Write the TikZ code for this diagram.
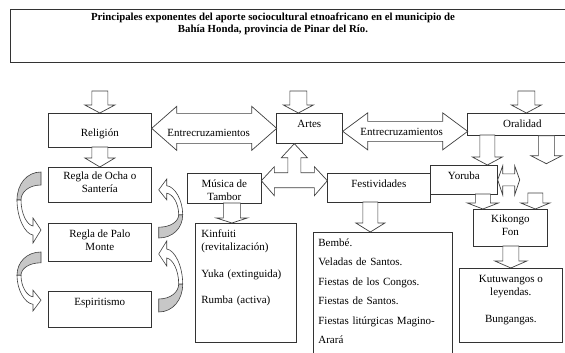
\documentclass[tikz,border=0pt]{standalone}
\usepackage{fontspec}
\setmainfont{Liberation Serif}
\usetikzlibrary{calc}

\tikzset{
  caja/.style={draw=black!80, line width=0.7pt, fill=white, inner sep=0pt, align=center,
    font=\fontsize{11}{13.5}\selectfont},
  lista/.style={caja, align=left, inner xsep=6pt},
  flecha/.style={draw=black!75, line width=0.7pt, fill=white, line join=miter},
  curva/.style={draw=black!75, line width=0.6pt},
  rotulo/.style={inner sep=0pt, font=\fontsize{11}{13.5}\selectfont},
}
% flecha de bloque hacia abajo: punta, largo, medio cuerpo, media cabeza, largo de cabeza
\newcommand{\bajada}[5]{\draw[flecha, shift={#1}] (0,0) -- (-#4,#5) -- (-#3,#5) -- (-#3,#2)
  -- (#3,#2) -- (#3,#5) -- (#4,#5) -- cycle;}
% flecha curva (parte gris detras, parte blanca con la punta)
\newcommand{\curvada}{%
  \draw[curva, fill=black!22] (0,0) .. controls (-14,0) and (-24,-12) .. (-24,-28) -- (-20,-28)
    .. controls (-20,-20) and (-12,-13) .. (0,-13) -- cycle;
  \draw[curva, fill=white] (-24,-28) .. controls (-24,-46) and (-16,-62) .. (-8,-63) -- (-8,-71)
    -- (0,-58) -- (-8,-46) -- (-8,-54) .. controls (-14,-53) and (-20,-42) .. (-20,-28) -- cycle;}

\begin{document}
\begin{tikzpicture}[x=1pt, y=1pt]
\path[use as bounding box, fill=white] (0,0) rectangle (565,-353); % marco de la figura

% titulo
\node[draw=black!80, line width=0.7pt, anchor=north west, minimum width=565, minimum height=53, inner sep=0pt] (marco) at (10,-9) {};
\node[rotulo, align=center, font=\fontsize{10.8}{12}\selectfont\bfseries, anchor=base] (titulo) at (273,-33)
  {Principales exponentes del aporte sociocultural etnoafricano en el municipio de\\
   Bahía Honda, provincia de Pinar del Río.};

% fila superior
\node[caja, anchor=north west, minimum width=103, text height=23, text depth=11] (religion) at (48,-113) {Religión};
\node[caja, anchor=north west, minimum width=66, text height=14, text depth=16] (artes) at (276,-113) {Artes};
\node[caja, anchor=north west, minimum width=110, text height=14, text depth=8] (oralidad) at (467,-113) {Oralidad};

% religion
\node[caja, anchor=north west, minimum width=103, text height=25.5, text depth=9.5] (ocha) at (48,-167) {Regla de Ocha o\\Santería};
\node[caja, anchor=north west, minimum width=103, text height=27.5, text depth=10.5] (palo) at (48,-223) {Regla de Palo\\Monte};
\node[caja, anchor=north west, minimum width=103, text height=14, text depth=22] (espiritismo) at (48,-291) {Espiritismo};

% artes
\node[caja, anchor=north west, minimum width=74, text height=27.5, text depth=2.5] (musica) at (187,-173) {Música de\\Tambor};
\node[caja, anchor=north west, minimum width=103, text height=14, text depth=15] (festividades) at (327,-173) {Festividades};
\node[lista, anchor=north west, text width=89, text height=14, text depth=105] (kinfuiti) at (195,-223)
  {Kinfuiti\\(revitalización)\\[13pt]Yuka (extinguida)\\[13pt]Rumba (activa)};
\node[lista, anchor=north west, inner xsep=5pt, text width=129, text height=14, text depth=114] (fiestas) at (313,-232)
  {Bembé.\\[6pt]Veladas de Santos.\\[6pt]Fiestas de los Congos.\\[6pt]Fiestas de Santos.\\[6pt]Fiestas litúrgicas Magino-\\[6pt]Arará};

% oralidad
\node[caja, anchor=north west, minimum width=67, text height=14, text depth=15] (yoruba) at (430,-165) {Yoruba};
\node[caja, anchor=north west, minimum width=74, text height=26.5, text depth=10.5] (kikongo) at (473,-209) {Kikongo\\Fon};
\node[caja, anchor=north west, minimum width=103, text height=54.5, text depth=19.5] (kutu) at (459,-268)
  {Kutuwangos o\\leyendas.\\[13.5pt]Bungangas.};
\coordinate (libre) at ([xshift=24pt,yshift=-28pt]oralidad.south);

% flechas hacia abajo
\bajada{(religion.north)}{22}{8}{15}{8}
\bajada{([xshift=-11pt]artes.north)}{22}{8.5}{15}{8}
\bajada{([xshift=4pt]oralidad.north)}{22}{8.5}{15}{8}
\bajada{(ocha.north)}{20}{8}{15}{9}
\bajada{([xshift=-14pt]kinfuiti.north)}{20}{8.5}{15.5}{5}
\bajada{([xshift=-12.5pt]fiestas.north)}{30}{7.5}{14.5}{9}
\bajada{([xshift=23.5pt]yoruba.north)}{30}{7.5}{15}{8}
\bajada{(libre)}{28}{8}{15.5}{8}
\bajada{([xshift=-27.5pt]kikongo.north)}{15}{7.5}{15.5}{6}
\bajada{([xshift=25pt]kikongo.north)}{16}{7.5}{14.5}{6}
\bajada{(kutu.north)}{22}{8}{16}{7}

% entrecruzamientos
\draw[flecha, shift={([yshift=2pt]religion.east)}] (0,0) -- (25,22) -- (25,15) -- (100,15) -- (100,22) -- (125,0)
  -- (100,-22) -- (100,-15) -- (25,-15) -- (25,-22) -- cycle;
\draw[flecha, shift={([yshift=-3pt]artes.east)}] (0,0) -- (25,18.5) -- (25,10) -- (100,10) -- (100,18.5) -- (125,0)
  -- (100,-18.5) -- (100,-10) -- (25,-10) -- (25,-18.5) -- cycle;
\node[rotulo] (cruce1) at ([xshift=57pt,yshift=-3pt]religion.east) {Entrecruzamientos};
\node[rotulo] (cruce2) at ([xshift=59pt,yshift=-4pt]artes.east) {Entrecruzamientos};

% flecha de tres puntas bajo artes
\draw[flecha, shift={([xshift=-15pt]artes.south)}] (-33,-37) -- (-20,-23) -- (-20,-29) -- (-6.5,-29) -- (-6.5,-14)
  -- (-13,-14) -- (0,0) -- (13,-14) -- (6.5,-14) -- (6.5,-29) -- (20,-29) -- (20,-23) -- (33,-37)
  -- (20,-52) -- (20,-44) -- (-20,-44) -- (-20,-52) -- cycle;

% doble flecha junto a yoruba
\draw[flecha, shift={(yoruba.east)}] (0,0) -- (5,14) -- (5,6) -- (17,6) -- (17,14) -- (22,0) -- (17,-15)
  -- (17,-6) -- (5,-6) -- (5,-15) -- cycle;

% flechas curvas
\begin{scope}[shift={([xshift=-7pt,yshift=-5pt]ocha.north west)}] \curvada \end{scope}
\begin{scope}[shift={([xshift=-7pt,yshift=-29pt]palo.north west)}, yscale=0.83] \curvada \end{scope}
\begin{scope}[shift={([xshift=7pt,yshift=-15pt]palo.north east)}, rotate=180, yscale=0.83] \curvada \end{scope}
\begin{scope}[shift={([xshift=7pt,yshift=-21pt]espiritismo.north east)}, rotate=180] \curvada \end{scope}
\end{tikzpicture}
\end{document}
